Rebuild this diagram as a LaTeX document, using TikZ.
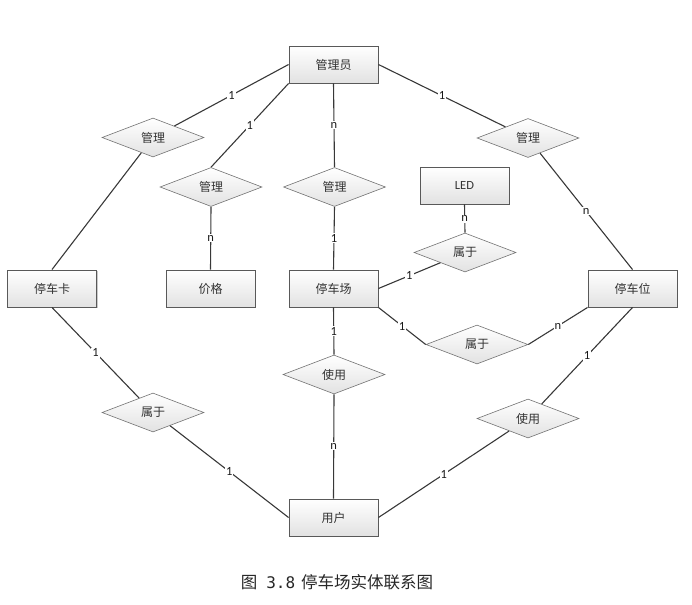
\documentclass[tikz,border=0pt]{standalone}
\usepackage{fontspec}
\setmainfont{Carlito}
\newfontfamily\cjk{Noto Sans CJK SC}
\newfontfamily\capmono{DejaVu Sans Mono}
\usetikzlibrary{shapes.geometric,shadows}

\definecolor{boxline}{HTML}{595959}
\definecolor{boxbot}{HTML}{E2E2E2}
\definecolor{linkline}{HTML}{383838}

\begin{document}
\begin{tikzpicture}[x=1pt,y=-1pt,
  entity/.style={draw=boxline,line width=.9pt,rectangle,top color=white,bottom color=boxbot,
    minimum width=89pt,minimum height=37pt,inner sep=0pt,text=black!80,
    font=\cjk\fontsize{12}{14}\selectfont,
    drop shadow={shadow xshift=1.3pt,shadow yshift=-1.3pt,opacity=.35,fill=black!60}},
  relation/.style={draw=boxline!85,line width=.6pt,diamond,aspect=2.6,top color=white,
    bottom color=boxbot,minimum width=102pt,minimum height=39pt,inner sep=0pt,
    text=black!80,font=\cjk\fontsize{12}{14}\selectfont},
  card/.style={fill=white,inner sep=1pt,text=black!90,font=\fontsize{12.5}{13}\selectfont},
  link/.style={draw=linkline,line width=1.1pt}]
\useasboundingbox (0,0) rectangle (692,604);

% entities
\node[entity] (admin) at (333.5,64.5) {管理员};
\node[entity] (card) at (52,288.5) {停车卡};
\node[entity] (price) at (210.5,288.5) {价格};
\node[entity] (lot) at (333.5,288.5) {停车场};
\node[entity] (space) at (632.5,288.5) {停车位};
\node[entity,font=\fontsize{12.5}{14}\selectfont] (led) at (464.5,185.5) {LED};
\node[entity] (user) at (333.5,517.5) {用户};

% relations
\node[relation] (rcard) at (153,137.5) {管理};
\node[relation] (rprice) at (211,187) {管理};
\node[relation] (rlot) at (334.5,187) {管理};
\node[relation] (rspace) at (528,138) {管理};
\node[relation] (rled) at (465,252.5) {属于};
\node[relation] (rbelong) at (477,344.5) {属于};
\node[relation] (ruselot) at (334,374.5) {使用};
\node[relation] (rowner) at (153,412.5) {属于};
\node[relation] (rusespace) at (528,418.5) {使用};

% connectors
\draw[link] (admin.west) -- node[card] {1} (rcard);
\draw[link] (rcard) -- (card.north);
\draw[link] (admin.south west) -- node[card] {1} (rprice.north);
\draw[link] (rprice.south) -- node[card] {n} (price.north);
\draw[link] (admin.south) -- node[card] {n} (rlot.north);
\draw[link] (rlot.south) -- node[card] {1} (lot.north);
\draw[link] (admin.east) -- node[card] {1} (rspace);
\draw[link] (rspace) -- node[card] {n} (space.north);
\draw[link] (led.south) -- node[card] {n} (rled.north);
\draw[link] (lot.east) -- node[card] {1} (rled);
\draw[link] (lot.south east) -- node[card] {1} (rbelong.west);
\draw[link] (rbelong.east) -- node[card] {n} (space.south west);
\draw[link] (lot.south) -- node[card] {1} (ruselot.north);
\draw[link] (ruselot.south) -- node[card] {n} (user.north);
\draw[link] (card.south) -- node[card] {1} (rowner);
\draw[link] (rowner) -- node[card] {1} (user.west);
\draw[link] (user.east) -- node[card] {1} (rusespace);
\draw[link] (rusespace) -- node[card] {1} (space.south);

% caption
\node[font=\cjk\fontsize{16.5}{18}\selectfont,text=black!85] (cap) at (337,582)
  {图\hspace{9pt}{\capmono\fontsize{16}{18}\selectfont 3.8}\hspace{6pt}停车场实体联系图};
\end{tikzpicture}
\end{document}
